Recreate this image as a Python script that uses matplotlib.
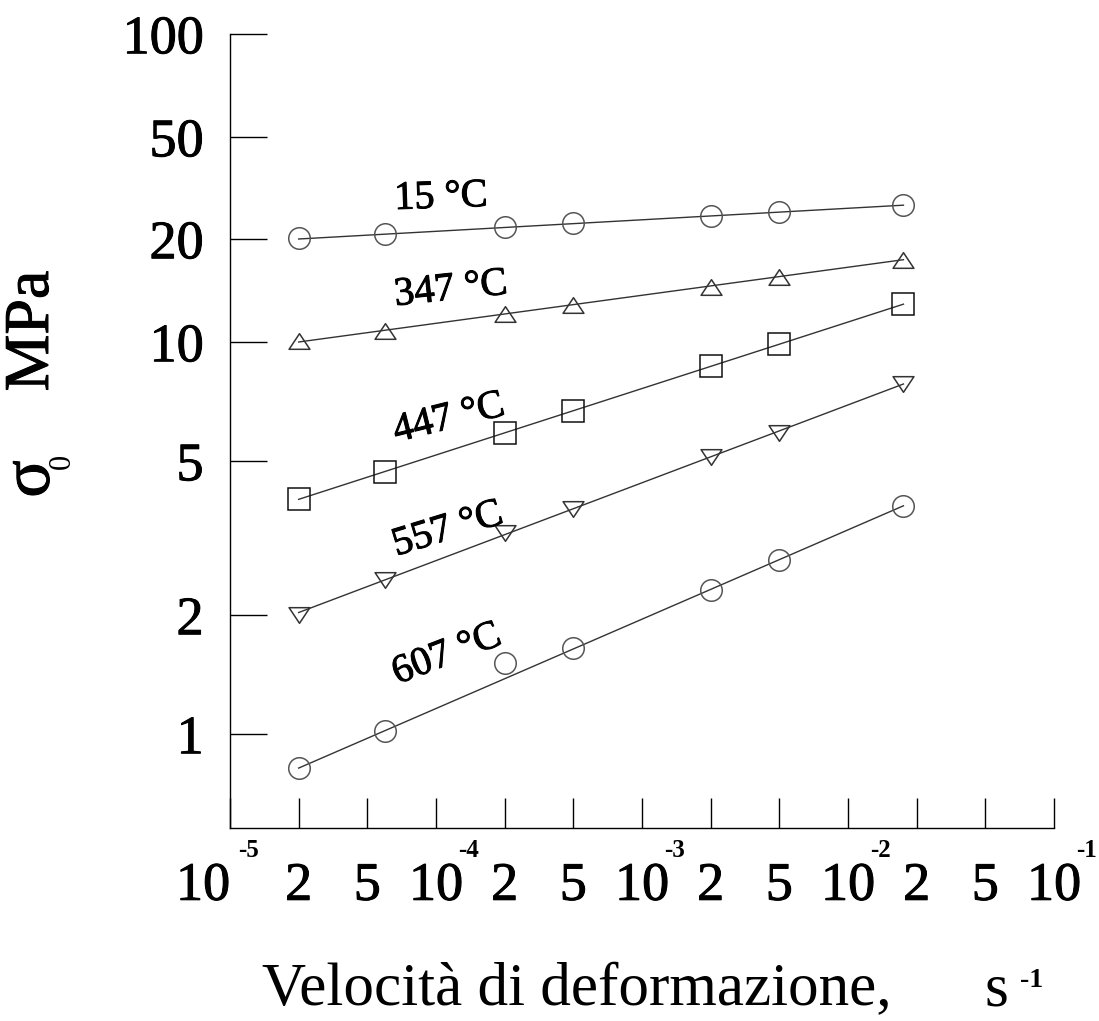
import numpy as np
import matplotlib
matplotlib.use("Agg")
from matplotlib import pyplot as plt
from matplotlib import patheffects
from matplotlib.path import Path
from matplotlib.scale import FuncScale

plt.rcParams['font.family'] = 'Liberation Serif'

# ----------------- Data -----------------
# strain rate axis: 1-2-5 steps drawn evenly spaced
rate_ticks = [1e-5, 2e-5, 5e-5, 1e-4, 2e-4, 5e-4, 1e-3, 2e-3, 5e-3, 1e-2, 2e-2, 5e-2, 1e-1]
rate_tick_labels = ['10', '2', '5', '10', '2', '5', '10', '2', '5', '10', '2', '5', '10']
decade_ticks = [1e-5, 1e-4, 1e-3, 1e-2, 1e-1]
decade_exps = ['-5', '-4', '-3', '-2', '-1']

# stress axis ticks and where they sit on the drawn axis (px above x axis)
stress_ticks = [1, 2, 5, 10, 20, 50, 100]
stress_tick_pos = [94, 213, 367, 486, 589, 691, 794]

rate = [2e-5, 6e-5, 2e-4, 5e-4, 2e-3, 5e-3, 1.75e-2]

s15 = [20.1, 21.0, 22.2, 23.0, 24.6, 25.5, 27.1]
s347 = [10.1, 10.8, 12.1, 12.8, 14.5, 15.5, 17.4]
s447 = [3.98, 4.69, 5.88, 6.69, 8.70, 9.88, 12.9]
s557 = [2.0, 2.46, 3.25, 3.75, 5.11, 5.90, 7.83]
s607 = [0.82, 1.02, 1.51, 1.65, 2.32, 2.77, 3.83]

# fitted lines: stress at first and last strain rate
fit15 = [20.0, 27.1]
fit347 = [10.0, 17.4]
fit447 = [3.98, 12.9]
fit557 = [2.03, 7.83]
fit607 = [0.82, 3.83]

temps = ['15 °C', '347 °C', '447 °C', '557 °C', '607 °C']


# ----------------- Scales -----------------
def piecewise(v, xp, fp):
    v = np.asarray(v, dtype=float)
    flat = v.ravel()
    out = np.interp(flat, xp, fp)
    lo = flat < xp[0]
    hi = flat > xp[-1]
    out[lo] = fp[0] + (flat[lo] - xp[0]) * (fp[1] - fp[0]) / (xp[1] - xp[0])
    out[hi] = fp[-1] + (flat[hi] - xp[-1]) * (fp[-1] - fp[-2]) / (xp[-1] - xp[-2])
    return out.reshape(v.shape)


def safe_log(v):
    with np.errstate(divide='ignore', invalid='ignore'):
        return np.log10(np.clip(np.asarray(v, dtype=float), 1e-30, None))


x_log = np.log10(rate_ticks)
x_idx = np.arange(len(rate_ticks), dtype=float)
y_log = np.log10(stress_ticks)
y_pos = np.array(stress_tick_pos, dtype=float)


def x_fwd(v):
    return piecewise(safe_log(v), x_log, x_idx)


def x_inv(p):
    return 10 ** piecewise(p, x_idx, x_log)


def y_fwd(v):
    return piecewise(safe_log(v), y_log, y_pos)


def y_inv(p):
    return 10 ** piecewise(p, y_pos, y_log)


# ----------------- Plot -----------------
W, H = 1099, 1021
fig = plt.figure(figsize=(W / 100, H / 100), dpi=100)
ax = fig.add_axes([230 / W, (H - 828) / H, 824 / W, 794 / H])
ax.set_xscale(FuncScale(ax, (x_fwd, x_inv)))
ax.set_yscale(FuncScale(ax, (y_fwd, y_inv)))
ax.set_xlim(rate_ticks[0], rate_ticks[-1])
ax.set_ylim(float(y_inv(0.0)), stress_ticks[-1])

line_kw = dict(color='#333333', lw=1.0, zorder=2)
mk_kw = dict(ls='none', mfc='none', mew=1.1, zorder=3)

tri_up = Path([(-1, -0.75), (1, -0.75), (0, 0.75), (-1, -0.75)], closed=True)
tri_dn = Path([(-1, 0.75), (1, 0.75), (0, -0.75), (-1, 0.75)], closed=True)

series = [
    (s15, fit15, 'o', 15.5, '#555555'),
    (s347, fit347, tri_up, 15, '#333333'),
    (s447, fit447, 's', 16, '#111111'),
    (s557, fit557, tri_dn, 15, '#333333'),
    (s607, fit607, 'o', 15.5, '#555555'),
]
for vals, fit, mk, ms, col in series:
    ax.plot([rate[0], rate[-1]], fit, **line_kw)
    ax.plot(rate, vals, marker=mk, ms=ms, mec=col, **mk_kw)

# axes look
for side in ['top', 'right']:
    ax.spines[side].set_visible(False)
for side in ['left', 'bottom']:
    ax.spines[side].set_linewidth(1.0)

# regular Times-like glyphs, slightly thickened like the scanned original
heavy = [patheffects.withStroke(linewidth=0.7, foreground='black')]

ax.set_xticks(rate_ticks)
ax.set_xticklabels(rate_tick_labels)
ax.xaxis.set_minor_locator(matplotlib.ticker.NullLocator())
ax.set_yticks(stress_ticks)
ax.set_yticklabels([str(t) for t in stress_ticks])
ax.yaxis.set_minor_locator(matplotlib.ticker.NullLocator())
ax.tick_params(axis='x', direction='in', length=21.6, width=1.0, pad=24, labelsize=39)
ax.tick_params(axis='y', direction='in', length=26.6, width=1.0, pad=19, labelsize=39)
for lab in ax.get_xticklabels() + ax.get_yticklabels():
    lab.set_path_effects(heavy)
ax.get_xticklabels()[0].set_ha('right')

# exponents of the decade labels
for i, (d, e) in enumerate(zip(decade_ticks, decade_exps)):
    dx = 6 if i == 0 else 16
    ax.annotate(e, xy=(d, 0), xycoords=('data', 'axes fraction'),
                xytext=(dx, -8), textcoords='offset points',
                ha='left', va='top', fontsize=18, fontweight='bold')

# temperature labels
label_xy = [(441, 198), (451, 290), (449, 419), (448, 530), (447, 655)]
label_rot = [2, 6, 14, 17, 21]
for t, (px, py), r in zip(temps, label_xy, label_rot):
    fig.text(px / W, 1 - py / H, t, rotation=r, ha='center', va='center',
             fontsize=29, path_effects=heavy)

# axis titles
fig.text(262 / W, 1 - 1005 / H, 'Velocità di deformazione,', ha='left', va='baseline', fontsize=44)
fig.text(984 / W, 1 - 1005 / H, 's', ha='left', va='baseline', fontsize=44)
fig.text(1020 / W, 1 - 968 / H, '-1', ha='left', va='top', fontsize=20, fontweight='bold')
fig.text(32 / W, 1 - 479 / H, 'σ', rotation=90, ha='center', va='center', fontsize=50, path_effects=heavy)
fig.text(62 / W, 1 - 461 / H, '0', rotation=90, ha='center', va='center', fontsize=22)
fig.text(33 / W, 1 - 331 / H, 'MPa', rotation=90, ha='center', va='center', fontsize=46, path_effects=heavy)

fig.savefig('out.png', dpi=100)
